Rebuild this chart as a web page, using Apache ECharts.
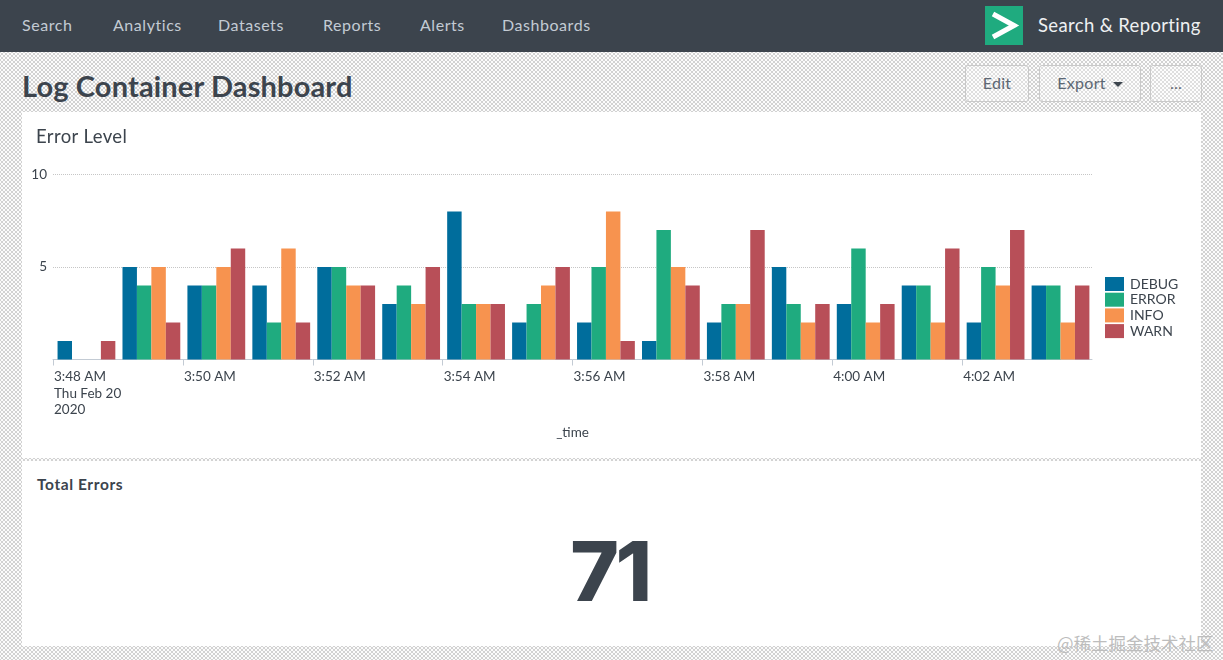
<!DOCTYPE html>
<html>
<head>
<meta charset="utf-8">
<title>Log Container Dashboard</title>
<script src="https://cdn.jsdelivr.net/npm/echarts@6/dist/echarts.min.js"></script>
<style>
html, body { margin: 0; padding: 0; }
body {
    width: 1223px; height: 660px; overflow: hidden; position: relative;
    font-family: Lato, "Open Sans", sans-serif; color: #3c444d;
    background:
        radial-gradient(circle, #d2d2d2 0.8px, transparent 1px) 0 0 / 4px 4px,
        radial-gradient(circle, #d2d2d2 0.8px, transparent 1px) 2px 2px / 4px 4px,
        #fcfcfc;
}
.abs { position: absolute; white-space: nowrap; }
#nav { left: 0; top: 0; width: 1223px; height: 52px; background: #3c444d; }
#nav span { position: absolute; top: 15px; font-size: 16px; line-height: 20px; color: #c3cbd4; letter-spacing: 0.55px; }
#logo { left: 985px; top: 6px; width: 38px; height: 39px; background: #1fab7f; }
#app { left: 1038px; top: 13px; font-size: 18.5px; line-height: 24px; color: #eef0f2; letter-spacing: 0.35px; }
#title { left: 22px; top: 67px; font-size: 29px; line-height: 38px; font-weight: 700; letter-spacing: 0.15px; }
.btn {
    top: 65px; height: 35px; line-height: 34px; text-align: center; font-size: 16px; color: #5c6773;
    border: 1px solid #c9c9c9; border-radius: 3px; box-sizing: content-box; letter-spacing: 0.3px;
    background:
        radial-gradient(circle, #dedede 0.8px, transparent 1px) 0 0 / 4px 4px,
        radial-gradient(circle, #dedede 0.8px, transparent 1px) 2px 2px / 4px 4px,
        #fdfdfd;
}
.caret {
    display: inline-block; margin-left: 7px; vertical-align: 2px;
    border-left: 5px solid transparent; border-right: 5px solid transparent; border-top: 5px solid #3c444d;
}
.panel { left: 22px; width: 1179px; background: #fff; }
#panel1 { top: 112px; height: 346px; }
#panel2 { top: 461px; height: 185px; }
#chart { left: 22px; top: 112px; width: 1179px; height: 346px; }
#panelTitle1 { left: 36px; top: 124px; font-size: 18.5px; line-height: 24px; letter-spacing: 0.4px; }
#panelTitle2 { left: 37px; top: 474px; font-size: 15.5px; line-height: 20px; font-weight: 700; letter-spacing: 0.6px; }
#total { left: 20px; width: 1179px; top: 516px; text-align: center; font-family: Inter, Lato, sans-serif; font-size: 83px; line-height: 110px; font-weight: 800; letter-spacing: -3.5px; }
#mark { left: 1057px; top: 633px; font-family: "Noto Sans CJK SC"; font-size: 17.5px; line-height: 20px; color: #bdbdbd; }
</style>
</head>
<body>
<div id="nav" class="abs">
    <span style="left:22px">Search</span>
    <span style="left:113px">Analytics</span>
    <span style="left:218px">Datasets</span>
    <span style="left:323px">Reports</span>
    <span style="left:420px">Alerts</span>
    <span style="left:502px">Dashboards</span>
</div>
<div id="logo" class="abs">
    <svg width="38" height="39"><polyline points="8,8 29,19.5 8,31" fill="none" stroke="#fff" stroke-width="5"/></svg>
</div>
<div id="app" class="abs">Search &amp; Reporting</div>
<div id="title" class="abs">Log Container Dashboard</div>
<div class="abs btn" style="left:965px;width:62px">Edit</div>
<div class="abs btn" style="left:1039px;width:100px">Export<i class="caret"></i></div>
<div class="abs btn" style="left:1150px;width:50px">...</div>
<div id="panel1" class="abs panel"></div>
<div id="panel2" class="abs panel"></div>
<div id="chart" class="abs"></div>
<div id="panelTitle1" class="abs">Error Level</div>
<div id="panelTitle2" class="abs">Total Errors</div>
<div id="total" class="abs">71</div>
<div id="mark" class="abs">@稀土掘金技术社区</div>

<script>
// one bar group per minute
var minutes = ['3:48', '3:49', '3:50', '3:51', '3:52', '3:53', '3:54', '3:55', '3:56', '3:57', '3:58', '3:59', '4:00', '4:01', '4:02', '4:03'];
var debugValues = [1, 5, 4, 4, 5, 3, 8, 2, 2, 1, 2, 5, 3, 4, 2, 4];
var errorValues = [0, 4, 4, 2, 5, 4, 3, 3, 5, 7, 3, 3, 6, 4, 5, 4];
var infoValues = [0, 5, 5, 6, 4, 3, 3, 4, 8, 5, 3, 2, 2, 2, 4, 2];
var warnValues = [1, 2, 6, 2, 4, 5, 3, 5, 1, 4, 7, 3, 3, 6, 7, 4];
var tickLabels = ['3:48 AM\nThu Feb 20\n2020', '3:50 AM', '3:52 AM', '3:54 AM', '3:56 AM', '3:58 AM', '4:00 AM', '4:02 AM'];
var seriesNames = ['DEBUG', 'ERROR', 'INFO', 'WARN'];
var seriesColors = ['#006d9c', '#1fab7f', '#f7934f', '#b84f58'];
var seriesValues = [debugValues, errorValues, infoValues, warnValues];

var TICK_STEP = 2; // a labelled tick every two minutes
var tickValues = tickLabels.map(function (label, i) { return i * TICK_STEP; });

// the x axis is numeric so the ticks sit on the group edges, bars sit about mid minute
function toPoints(values) {
    return values.map(function (v, i) { return [i + 0.515, v]; });
}

var myChart = echarts.init(document.getElementById('chart'));
var option = {
    animation: false,
    textStyle: { fontFamily: 'Lato' },
    color: seriesColors,
    grid: { left: 31, top: 62.5, width: 1039, height: 185 },
    legend: {
        orient: 'vertical', left: 1078, top: 160,
        icon: 'rect', itemWidth: 19, itemHeight: 14, itemGap: 1.7,
        data: seriesNames,
        textStyle: { fontSize: 14, color: '#3c444d', padding: [0, 0, 0, 1] }
    },
    xAxis: {
        type: 'value', min: 0, max: minutes.length,
        name: '_time', nameLocation: 'middle', nameGap: 66,
        nameTextStyle: { fontSize: 13.5, color: '#3c444d' },
        splitLine: { show: false },
        axisLine: { show: true, lineStyle: { color: '#c3cbd4', width: 1 } },
        axisTick: { show: true, length: 6, customValues: tickValues, lineStyle: { color: '#c3cbd4' } },
        axisLabel: {
            customValues: tickValues,
            formatter: function (v) { return tickLabels[v / TICK_STEP]; },
            align: 'left', margin: 9, lineHeight: 16.5, fontSize: 13.5, color: '#3c444d', padding: [0, 0, 0, 1]
        }
    },
    yAxis: {
        type: 'value', min: 0, max: 10, interval: 5,
        axisLine: { show: false },
        axisTick: { show: false },
        splitLine: { lineStyle: { color: '#c6c6c6', type: 'dotted', width: 1 } },
        axisLabel: {
            margin: 6, fontSize: 13.5, color: '#3c444d',
            formatter: function (v) { return v === 0 ? '' : v; }
        }
    },
    series: seriesNames.map(function (name, i) {
        return {
            name: name, type: 'bar',
            barGap: 0, barCategoryGap: '11%',
            data: toPoints(seriesValues[i])
        };
    })
};
myChart.setOption(option);
</script>
</body>
</html>
